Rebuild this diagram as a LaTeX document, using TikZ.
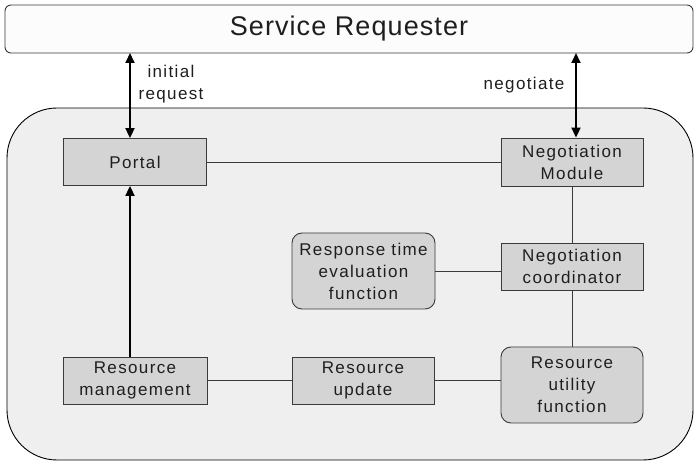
\documentclass[tikz,border=0pt]{standalone}
\usepackage{fontspec}
\setmainfont{Liberation Sans}
\newfontfamily\boxfont[LetterSpace=8]{Liberation Sans}
\newfontfamily\titlefont[LetterSpace=4]{Liberation Sans}
\usetikzlibrary{arrows.meta,calc}
\definecolor{bordergray}{HTML}{3A3A3A}
\definecolor{boxfill}{HTML}{D4D4D4}
\definecolor{bigfill}{HTML}{EFEFEF}
\definecolor{topfill}{HTML}{FCFCFC}
\definecolor{txt}{HTML}{1E1E1E}
\tikzset{
  sqbox/.style={draw=bordergray, line width=0.9pt, fill=boxfill, minimum width=143pt, minimum height=47pt, inner sep=0pt, align=center, text=txt, font=\boxfont\fontsize{17}{22}\selectfont},
  rndbox/.style={sqbox, rounded corners=10pt, minimum height=76pt},
  link/.style={draw=bordergray, line width=0.9pt},
  bigarrow/.style={draw=black, line width=2pt, {Triangle[length=10pt,width=9pt]}-{Triangle[length=10pt,width=9pt]}},
  uparrow/.style={draw=black, line width=2pt, -{Triangle[length=10pt,width=9pt]}},
  lbl/.style={align=center, text=txt, font=\boxfont\fontsize{17}{22}\selectfont, inner sep=0pt}
}
\begin{document}
\begin{tikzpicture}[x=1pt,y=-1pt]
\useasboundingbox (0,0) rectangle (694,462);
% container
\draw[draw=black, line width=0.9pt, fill=bigfill, rounded corners=50pt] (7,108) rectangle (693,460);
% top box
\node[draw=bordergray, line width=0.9pt, fill=topfill, rounded corners=6pt, minimum width=688pt, minimum height=48pt, inner sep=0pt, text=txt, font=\titlefont\fontsize{27}{30}\selectfont] (top) at (349,29) {Service Requester};
% boxes
\node[sqbox] (portal) at (135,162) {Portal};
\node[sqbox, minimum width=142pt, minimum height=48pt] (nm) at (572,162) {Negotiation\\Module};
\node[rndbox] (rtef) at (363.5,271) {Response time\\evaluation\\function};
\node[sqbox, minimum width=142pt] (nc) at (572,266.5) {Negotiation\\coordinator};
\node[sqbox, minimum width=144pt] (rm) at (135,380.5) {Resource\\management};
\node[sqbox, minimum width=142pt] (ru) at (363,380.5) {Resource\\update};
\node[rndbox, minimum width=142pt] (ruf) at (572,385) {Resource\\utility\\function};
% arrow anchors
\coordinate (la) at (130,53);
\coordinate (ra) at (576,53);
\draw[bigarrow] (la) -- (la |- portal.north);
\draw[bigarrow] (ra) -- (ra |- nm.north);
\draw[uparrow] (la |- rm.north) -- (la |- portal.south);
% labels
\node[lbl] (lblinit) at (171,84) {initial\\request};
\node[lbl] (lblneg) at (524,85) {negotiate};
% links
\draw[link] (portal.east) -- (portal.east -| nm.west);
\draw[link] (nm.south) -- (nc.north);
\draw[link] (nc.south) -- (ruf.north);
\draw[link] (rtef.east) -- (rtef.east -| nc.west);
\draw[link] (rm.east) -- (ru.west);
\draw[link] (ru.east) -- (ru.east -| ruf.west);
\end{tikzpicture}
\end{document}
